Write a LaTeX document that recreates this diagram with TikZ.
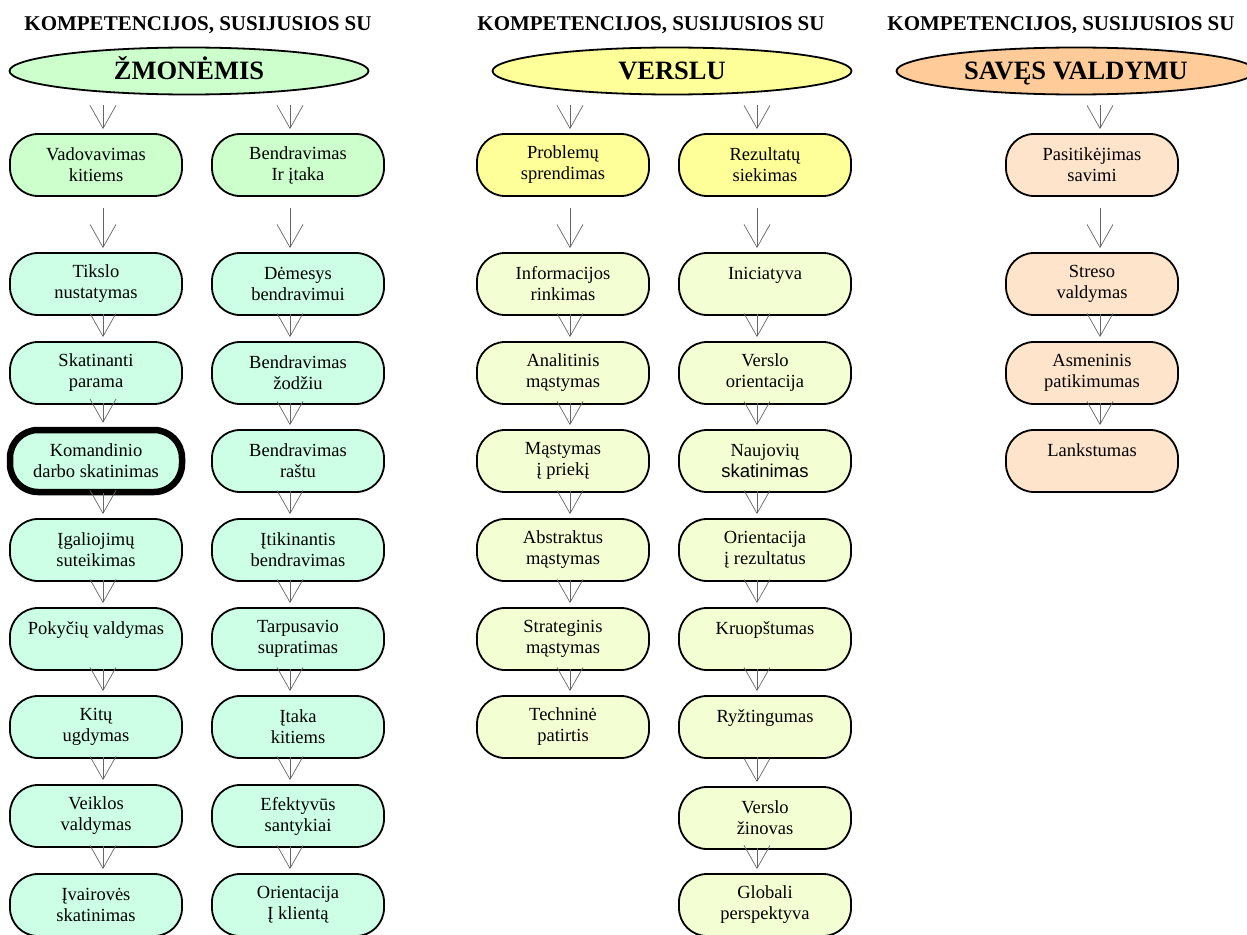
\documentclass[tikz,border=0pt]{standalone}
\usepackage{fontspec}
\setmainfont{Liberation Serif}
\newfontfamily\arialfont{Liberation Sans}
\usetikzlibrary{arrows.meta, shapes.geometric}

\definecolor{headgreen}{HTML}{CCFFCC}
\definecolor{mint}{HTML}{CCFFE6}
\definecolor{headyellow}{HTML}{FFFF99}
\definecolor{paleyellow}{HTML}{F3FFD2}
\definecolor{headorange}{HTML}{FFCC99}
\definecolor{paleorange}{HTML}{FFE4CC}

\tikzset{
  box/.style = {draw, line width=1.8pt, rounded corners=28pt, minimum width=172pt,
    minimum height=62pt, inner sep=0pt, align=center, font=\fontsize{18.5}{21}\selectfont},
  headell/.style = {draw, ellipse, line width=1.8pt, minimum width=359pt,
    minimum height=47pt, inner sep=0pt, text height=18pt, text depth=0pt,
    font=\fontsize{26.5}{28}\selectfont\bfseries},
  heading/.style = {font=\fontsize{21}{23}\selectfont\bfseries},
  arr/.style = {draw=black!60, line width=0.7pt,
    -{Straight Barb[length=23pt, width=26pt]}, shorten >=4pt},
}

\begin{document}
\begin{tikzpicture}[x=1pt, y=-1pt]
    \useasboundingbox (0,0) rectangle (1247,934);

    % headings
    \node[heading] (tzm) at (198,25) {KOMPETENCIJOS, SUSIJUSIOS SU};
    \node[heading] (tvr) at (651,25) {KOMPETENCIJOS, SUSIJUSIOS SU};
    \node[heading] (tsv) at (1061,25) {KOMPETENCIJOS, SUSIJUSIOS SU};

    \node[headell, fill=headgreen] (zmones) at (189,71) {ŽMONĖMIS};
    \node[headell, fill=headyellow] (verslu) at (672,71) {VERSLU};
    \node[headell, fill=headorange] (saves) at (1076,71) {SAVĘS VALDYMU};

    % zmones, left column
    \node[box, fill=headgreen] (zm1) at (96,165) {Vadovavimas\\kitiems};
    \node[box, fill=mint] (zm2) at (96,284) {Tikslo\\nustatymas};
    \node[box, fill=mint] (zm3) at (96,373) {Skatinanti\\parama};
    \node[box, fill=mint, line width=6.5pt] (zm4) at (96,461) {Komandinio\\darbo skatinimas};
    \node[box, fill=mint] (zm5) at (96,550) {Įgaliojimų\\suteikimas};
    \node[box, fill=mint] (zm6) at (96,639) {Pokyčių valdymas\\~};
    \node[box, fill=mint] (zm7) at (96,727) {Kitų\\ugdymas};
    \node[box, fill=mint] (zm8) at (96,816) {Veiklos\\valdymas};
    \node[box, fill=mint] (zm9) at (96,905) {Įvairovės\\skatinimas};

    % zmones, right column
    \node[box, fill=headgreen] (bi1) at (298,165) {Bendravimas\\Ir įtaka};
    \node[box, fill=mint] (bi2) at (298,284) {Dėmesys\\bendravimui};
    \node[box, fill=mint] (bi3) at (298,373) {Bendravimas\\žodžiu};
    \node[box, fill=mint] (bi4) at (298,461) {Bendravimas\\raštu};
    \node[box, fill=mint] (bi5) at (298,550) {Įtikinantis\\bendravimas};
    \node[box, fill=mint] (bi6) at (298,639) {Tarpusavio\\supratimas};
    \node[box, fill=mint] (bi7) at (298,727) {Įtaka\\kitiems};
    \node[box, fill=mint] (bi8) at (298,816) {Efektyvūs\\santykiai};
    \node[box, fill=mint] (bi9) at (298,905) {Orientacija\\Į klientą};

    % verslu, left column
    \node[box, fill=headyellow] (ps1) at (563,165) {Problemų\\sprendimas};
    \node[box, fill=paleyellow] (ps2) at (563,284) {Informacijos\\rinkimas};
    \node[box, fill=paleyellow] (ps3) at (563,373) {Analitinis\\mąstymas};
    \node[box, fill=paleyellow] (ps4) at (563,461) {Mąstymas\\į priekį};
    \node[box, fill=paleyellow] (ps5) at (563,550) {Abstraktus\\mąstymas};
    \node[box, fill=paleyellow] (ps6) at (563,639) {Strateginis\\mąstymas};
    \node[box, fill=paleyellow] (ps7) at (563,727) {Techninė\\patirtis};

    % verslu, right column
    \node[box, fill=headyellow] (rs1) at (765,165) {Rezultatų\\siekimas};
    \node[box, fill=paleyellow] (rs2) at (765,284) {Iniciatyva\\~};
    \node[box, fill=paleyellow] (rs3) at (765,373) {Verslo\\orientacija};
    \node[box, fill=paleyellow] (rs4) at (765,461) {Naujovių\\{\arialfont skatinimas}};
    \node[box, fill=paleyellow] (rs5) at (765,550) {Orientacija\\į rezultatus};
    \node[box, fill=paleyellow] (rs6) at (765,639) {Kruopštumas\\~};
    \node[box, fill=paleyellow] (rs7) at (765,727) {Ryžtingumas\\~};
    \node[box, fill=paleyellow] (rs8) at (765,818) {Verslo\\žinovas};
    \node[box, fill=paleyellow] (rs9) at (765,905) {Globali\\perspektyva};

    % saves valdymu
    \node[box, fill=paleorange] (sv1) at (1092,165) {Pasitikėjimas\\savimi};
    \node[box, fill=paleorange] (sv2) at (1092,284) {Streso\\valdymas};
    \node[box, fill=paleorange] (sv3) at (1092,373) {Asmeninis\\patikimumas};
    \node[box, fill=paleorange] (sv4) at (1092,461) {Lankstumas\\~};

    % arrows from the headings
    \foreach \h/\c/\dx in {zmones/zm/7, zmones/bi/-8, verslu/ps/7, verslu/rs/-8, saves/sv/8}
      \draw[arr, shorten <=10pt] ([xshift=\dx pt]\c1.north |- \h.south) -- ([xshift=\dx pt]\c1.north);

    % arrows down each column
    \foreach \c/\dx/\last in {zm/7/8, bi/-8/8, ps/7/6, rs/-8/8, sv/8/3} {
      \draw[arr, shorten <=11pt] ([xshift=\dx pt]\c1.south) -- ([xshift=\dx pt]\c2.north);
      \foreach \i in {2,...,\last} {
        \pgfmathtruncatemacro\j{\i+1}
        \draw[arr, shorten <=-2pt] ([xshift=\dx pt]\c\i.south) -- ([xshift=\dx pt]\c\j.north);
      }
    }
\end{tikzpicture}
\end{document}
